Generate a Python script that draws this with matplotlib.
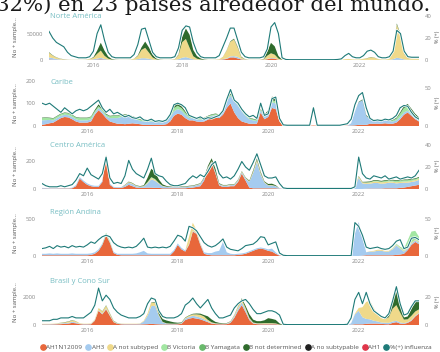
import numpy as np
import matplotlib
matplotlib.use("Agg")
import matplotlib.pyplot as plt
import matplotlib.patheffects as pe
from matplotlib.lines import Line2D

plt.rcParams['font.family'] = ['Open Sans', 'DejaVu Sans']

# ---------------- data (monthly, Jan 2015 .. May 2023) ----------------
year_ticks = [2016, 2018, 2020, 2022]
series_names = ["AH1N12009", "AH3", "A not subtyped", "B Victoria", "B Yamagata",
                "B not determined", "A no subtypable", "AH1", "%(+) influenza"]
regions = ["Norte América", "Caribe", "Centro América", "Región Andina", "Brasil y Cono Sur"]

# Norte América
na_pct = [26, 20, 16, 14, 12, 7, 4, 3, 2, 2, 2, 3,
          8, 24, 32, 18, 7, 3, 2, 2, 2, 2, 2, 5,
          14, 28, 29, 18, 7, 3, 2, 2, 2, 2, 3, 11,
          27, 31, 30, 16, 7, 3, 2, 2, 2, 2, 4, 12,
          20, 29, 29, 18, 7, 3, 2, 2, 2, 2, 3, 10,
          30, 34, 24, 2, 0.5, 0.3, 0.3, 0.3, 0.3, 0.3, 0.3, 0.3,
          0.3, 0.3, 0.3, 0.3, 0.3, 0.3, 0.5, 1, 4, 6, 3, 2,
          2, 4, 8, 9, 7, 3, 2, 2, 3, 8, 27, 24,
          8, 3, 2.5, 2.5, 2.5]
na_h1n1 = [1000, 600, 300, 200, 100, 0, 0, 0, 0, 0, 0, 100,
           300, 800, 1200, 600, 200, 0, 0, 0, 0, 0, 0, 0,
           200, 400, 400, 300, 100, 0, 0, 0, 0, 0, 0, 0,
           300, 500, 400, 200, 100, 0, 0, 0, 0, 0, 200, 1000,
           2000, 5000, 5000, 3000, 1000, 200, 0, 0, 0, 0, 200, 1500,
           3000, 2500, 500, 50, 0, 0, 0, 0, 0, 0, 0, 0,
           0, 0, 0, 0, 0, 0, 0, 0, 0, 0, 0, 0,
           0, 0, 0, 0, 0, 0, 0, 0, 0, 100, 300, 200,
           100, 0, 0, 0, 0]
na_h3 = [4000, 3000, 1500, 800, 400, 200, 100, 100, 100, 100, 200, 500,
         1000, 2000, 3000, 1500, 500, 200, 100, 100, 100, 100, 200, 500,
         1500, 3000, 3000, 2000, 800, 300, 100, 100, 100, 100, 300, 1500,
         4000, 5000, 3000, 1000, 400, 200, 100, 100, 100, 100, 300, 800,
         1000, 2000, 2500, 3000, 1000, 300, 100, 100, 100, 100, 200, 800,
         1000, 800, 300, 0, 0, 0, 0, 0, 0, 0, 0, 0,
         0, 0, 0, 0, 0, 0, 0, 0, 50, 100, 100, 100,
         100, 200, 300, 300, 200, 100, 100, 100, 200, 1500, 4000, 3000,
         1000, 400, 300, 300, 300]
na_anot = [9000, 5000, 3000, 1500, 800, 400, 300, 300, 300, 300, 500, 1500,
           3000, 9000, 14000, 6000, 2000, 600, 300, 300, 300, 300, 500, 2000,
           6000, 16000, 20000, 12000, 4000, 1000, 400, 300, 300, 400, 1000, 8000,
           30000, 35000, 20000, 6000, 2000, 800, 400, 300, 300, 400, 1000, 4000,
           15000, 28000, 32000, 18000, 3000, 800, 300, 300, 300, 400, 1000, 6000,
           9000, 7000, 2000, 200, 0, 0, 0, 0, 0, 0, 0, 0,
           0, 0, 0, 0, 0, 0, 100, 300, 1500, 2000, 1000, 800,
           1000, 2000, 3000, 5000, 4000, 1500, 800, 800, 2000, 18000, 64000, 45000,
           10000, 3000, 2000, 2000, 2000]
na_bnd = [1000, 600, 400, 300, 200, 100, 0, 0, 0, 0, 0, 100,
          1000, 6000, 15000, 10000, 4000, 1000, 200, 0, 0, 0, 0, 100,
          1000, 5000, 12000, 10000, 5000, 1500, 300, 0, 0, 0, 200, 1000,
          10000, 20000, 25000, 12000, 5000, 2000, 500, 0, 0, 0, 0, 200,
          500, 1000, 1500, 1500, 1000, 300, 0, 0, 0, 0, 500, 8000,
          20000, 16000, 5000, 300, 0, 0, 0, 0, 0, 0, 0, 0,
          0, 0, 0, 0, 0, 0, 0, 0, 0, 0, 0, 0,
          0, 100, 300, 500, 300, 100, 0, 0, 0, 200, 2000, 1500,
          500, 200, 100, 100, 100]

# Caribe
car_pct = [30, 28, 30, 26, 22, 18, 24, 20, 16, 20, 22, 20,
           22, 26, 30, 34, 24, 18, 22, 16, 18, 15, 12, 14,
           11, 10, 12, 8, 7, 9, 6, 7, 6, 8, 15, 28,
           30, 28, 24, 14, 12, 10, 12, 9, 11, 10, 12, 14,
           20, 35, 48, 34, 30, 22, 16, 12, 14, 10, 30, 14,
           16, 36, 38, 10, 1.5, 1, 1, 1, 1, 1, 1, 1,
           24, 1, 1, 1, 1, 1, 1, 1, 2, 3, 9, 28,
           40, 44, 24, 10, 7, 8, 7, 9, 8, 10, 14, 24,
           27, 26, 18, 12, 9]
car_h1n1 = [5, 8, 12, 15, 25, 35, 40, 38, 30, 20, 15, 15,
            15, 20, 50, 70, 55, 35, 20, 15, 10, 10, 8, 10,
            12, 10, 8, 5, 5, 5, 5, 5, 5, 8, 20, 45,
            55, 50, 35, 25, 25, 20, 18, 20, 28, 35, 38, 35,
            50, 80, 100, 60, 35, 20, 15, 10, 10, 10, 60, 30,
            40, 80, 75, 20, 2, 1, 1, 1, 1, 1, 1, 1,
            2, 1, 1, 1, 1, 1, 1, 1, 1, 1, 2, 3,
            5, 5, 5, 10, 10, 10, 10, 12, 10, 10, 15, 30,
            50, 60, 45, 30, 20]
car_h3 = [20, 18, 15, 10, 10, 10, 10, 10, 10, 10, 10, 10,
          10, 10, 8, 10, 10, 8, 15, 20, 25, 30, 35, 30,
          25, 20, 15, 15, 15, 15, 12, 12, 12, 12, 20, 20,
          20, 18, 15, 10, 10, 10, 10, 10, 10, 10, 10, 10,
          15, 30, 35, 50, 55, 45, 30, 20, 15, 12, 10, 10,
          15, 25, 25, 5, 0, 0, 0, 0, 0, 0, 0, 0,
          0, 0, 0, 0, 0, 0, 0, 0, 0, 0, 10, 60,
          100, 110, 40, 20, 15, 15, 15, 15, 12, 10, 10, 10,
          10, 8, 8, 6, 5]
car_bvic = [10, 10, 8, 8, 8, 8, 8, 8, 8, 8, 10, 10,
            10, 10, 8, 8, 8, 8, 8, 10, 10, 10, 8, 6,
            5, 5, 5, 5, 5, 5, 5, 5, 5, 5, 10, 15,
            15, 12, 10, 5, 5, 5, 5, 5, 5, 5, 5, 5,
            5, 5, 5, 5, 5, 5, 5, 5, 5, 5, 5, 5,
            5, 10, 10, 2, 0, 0, 0, 0, 0, 0, 0, 0,
            0, 0, 0, 0, 0, 0, 0, 0, 0, 0, 0, 0,
            0, 0, 0, 2, 3, 3, 3, 3, 3, 5, 8, 15,
            20, 20, 15, 12, 8]
car_bnd = [2, 2, 2, 2, 2, 2, 2, 2, 2, 2, 2, 2,
           2, 2, 5, 8, 5, 3, 2, 2, 2, 2, 2, 2,
           2, 2, 2, 2, 2, 2, 2, 2, 2, 2, 5, 10,
           10, 8, 5, 3, 2, 2, 2, 2, 2, 2, 2, 2,
           2, 3, 5, 5, 3, 2, 2, 2, 2, 2, 3, 5,
           10, 15, 15, 3, 0, 0, 0, 0, 0, 0, 0, 0,
           0, 0, 0, 0, 0, 0, 0, 0, 0, 0, 0, 0,
           2, 3, 3, 2, 2, 2, 2, 2, 2, 2, 3, 5,
           8, 10, 8, 6, 5]

# Centro América
ca_pct = [5, 3, 2, 2, 2, 3, 2, 3, 4, 8, 14, 12,
          19, 13, 11, 9, 14, 29, 10, 5, 6, 5, 12, 26,
          18, 14, 12, 10, 18, 28, 14, 12, 11, 7, 4, 3,
          3, 4, 5, 9, 12, 10, 13, 11, 16, 22, 25, 14,
          10, 11, 9, 12, 18, 25, 20, 17, 24, 32, 22, 12,
          10, 10, 11, 5, 1, 0.5, 0.5, 0.5, 0.5, 0.5, 0.5, 0.5,
          0.5, 0.5, 0.5, 0.5, 0.5, 0.5, 0.5, 0.5, 0.5, 0.5, 0.5, 2,
          29, 14, 10, 9, 12, 11, 10, 12, 9, 10, 11, 9,
          10, 11, 10, 12, 17]
ca_h1n1 = [3, 3, 2, 2, 2, 3, 3, 3, 5, 20, 75, 50,
           30, 20, 15, 15, 50, 230, 30, 10, 8, 8, 15, 30,
           20, 10, 8, 8, 10, 10, 8, 8, 5, 5, 5, 5,
           5, 5, 5, 8, 10, 15, 20, 60, 140, 185, 110, 25,
           15, 15, 20, 20, 50, 110, 60, 10, 5, 5, 5, 5,
           5, 5, 5, 2, 0, 0, 0, 0, 0, 0, 0, 0,
           0, 0, 0, 0, 0, 0, 0, 0, 0, 0, 0, 0,
           0, 0, 2, 3, 3, 3, 3, 5, 5, 5, 5, 8,
           10, 15, 20, 25, 30]
ca_h3 = [5, 4, 3, 3, 3, 3, 3, 3, 5, 8, 10, 10,
         10, 8, 8, 8, 8, 10, 8, 5, 5, 5, 10, 15,
         15, 10, 8, 10, 30, 60, 50, 30, 15, 10, 8, 8,
         8, 8, 8, 10, 10, 12, 15, 15, 10, 10, 10, 8,
         8, 8, 8, 8, 10, 10, 15, 40, 110, 190, 100, 40,
         20, 20, 15, 3, 0, 0, 0, 0, 0, 0, 0, 0,
         0, 0, 0, 0, 0, 0, 0, 0, 0, 0, 0, 5,
         80, 40, 35, 35, 40, 40, 35, 35, 40, 40, 35, 35,
         35, 30, 30, 30, 35]
ca_anot = [0, 0, 0, 0, 0, 0, 0, 0, 0, 0, 0, 0,
           0, 0, 0, 0, 0, 5, 0, 0, 0, 0, 3, 5,
           5, 3, 2, 3, 5, 10, 8, 5, 3, 2, 2, 2,
           2, 2, 2, 2, 2, 3, 3, 3, 5, 5, 5, 3,
           3, 3, 3, 3, 5, 5, 5, 5, 10, 15, 10, 5,
           3, 3, 2, 0, 0, 0, 0, 0, 0, 0, 0, 0,
           0, 0, 0, 0, 0, 0, 0, 0, 0, 0, 0, 0,
           10, 8, 8, 8, 10, 10, 10, 10, 8, 8, 8, 8,
           8, 8, 8, 8, 8]
ca_bvic = [0, 0, 0, 0, 0, 0, 0, 0, 0, 0, 0, 0,
           0, 0, 0, 0, 0, 0, 0, 0, 0, 0, 0, 0,
           0, 0, 0, 0, 5, 5, 5, 0, 0, 0, 0, 0,
           0, 0, 0, 0, 0, 0, 0, 0, 0, 0, 0, 0,
           0, 0, 0, 0, 0, 0, 0, 0, 0, 0, 0, 0,
           0, 0, 0, 0, 0, 0, 0, 0, 0, 0, 0, 0,
           0, 0, 0, 0, 0, 0, 0, 0, 0, 0, 0, 0,
           0, 0, 2, 3, 5, 5, 5, 8, 8, 8, 10, 10,
           10, 10, 10, 8, 8]
ca_bnd = [0, 0, 0, 0, 0, 0, 0, 0, 0, 0, 0, 0,
          0, 0, 0, 0, 0, 0, 0, 0, 0, 0, 2, 3,
          3, 3, 3, 5, 30, 60, 50, 25, 10, 5, 3, 3,
          3, 3, 3, 3, 3, 3, 3, 5, 10, 20, 20, 5,
          3, 3, 3, 3, 3, 3, 3, 5, 8, 10, 8, 5,
          8, 10, 5, 0, 0, 0, 0, 0, 0, 0, 0, 0,
          0, 0, 0, 0, 0, 0, 0, 0, 0, 0, 0, 0,
          3, 3, 5, 5, 5, 5, 5, 5, 5, 5, 5, 5,
          5, 5, 5, 5, 5]

# Región Andina
and_pct = [10, 11, 13, 10, 14, 12, 13, 11, 14, 12, 13, 12,
           15, 19, 17, 22, 26, 28, 26, 18, 14, 12, 11, 12,
           11, 13, 18, 24, 12, 11, 12, 11, 12, 11, 13, 20,
           28, 26, 20, 40, 38, 34, 26, 18, 14, 12, 14, 18,
           23, 12, 9, 8, 7, 10, 14, 15, 16, 20, 26, 25,
           15, 17, 19, 4, 1, 0.5, 0.5, 0.5, 0.5, 0.5, 0.5, 0.5,
           0.5, 0.5, 0.5, 0.5, 0.5, 0.5, 0.5, 0.5, 0.5, 0.5, 0.5, 45,
           40, 28, 12, 10, 11, 12, 10, 9, 10, 14, 20, 22,
           10, 12, 24, 25, 22]
and_h1n1 = [10, 10, 10, 10, 10, 10, 10, 10, 10, 10, 10, 10,
            10, 15, 30, 70, 150, 280, 180, 40, 15, 10, 10, 10,
            10, 10, 10, 10, 10, 10, 10, 10, 10, 10, 10, 60,
            150, 90, 60, 150, 330, 300, 150, 30, 15, 10, 10, 10,
            10, 10, 10, 10, 15, 20, 30, 50, 70, 90, 100, 90,
            70, 60, 30, 5, 0, 0, 0, 0, 0, 0, 0, 0,
            0, 0, 0, 0, 0, 0, 0, 0, 0, 0, 0, 0,
            0, 5, 10, 10, 10, 10, 10, 10, 10, 10, 15, 20,
            30, 80, 150, 190, 160]
and_h3 = [20, 20, 25, 20, 25, 20, 20, 20, 25, 20, 20, 20,
          20, 20, 20, 20, 15, 10, 10, 15, 15, 20, 20, 20,
          20, 25, 40, 60, 25, 20, 20, 20, 20, 20, 20, 20,
          20, 20, 15, 10, 10, 10, 15, 20, 25, 30, 50, 60,
          180, 40, 20, 15, 15, 15, 15, 15, 15, 15, 15, 15,
          20, 40, 20, 3, 0, 0, 0, 0, 0, 0, 0, 0,
          0, 0, 0, 0, 0, 0, 0, 0, 0, 0, 0, 300,
          460, 250, 40, 50, 50, 60, 60, 50, 50, 80, 130, 80,
          30, 20, 20, 20, 20]
and_anot = [0, 0, 0, 0, 0, 0, 0, 0, 0, 0, 0, 0,
            0, 0, 0, 0, 0, 5, 5, 0, 0, 0, 0, 0,
            0, 0, 0, 0, 0, 0, 0, 0, 0, 0, 0, 0,
            0, 0, 0, 100, 110, 40, 10, 0, 0, 0, 0, 0,
            0, 0, 0, 0, 0, 0, 0, 0, 0, 0, 0, 0,
            0, 0, 0, 0, 0, 0, 0, 0, 0, 0, 0, 0,
            0, 0, 0, 0, 0, 0, 0, 0, 0, 0, 0, 0,
            0, 0, 0, 5, 10, 15, 15, 10, 10, 10, 10, 10,
            10, 10, 10, 10, 10]
and_bvic = [0, 0, 0, 0, 0, 0, 0, 0, 0, 0, 0, 0,
            0, 0, 0, 0, 5, 20, 10, 0, 0, 0, 0, 0,
            0, 0, 0, 0, 0, 0, 0, 0, 0, 0, 0, 0,
            0, 0, 0, 0, 0, 0, 0, 0, 0, 0, 0, 0,
            0, 0, 0, 0, 0, 0, 0, 0, 0, 0, 0, 0,
            0, 0, 0, 0, 0, 0, 0, 0, 0, 0, 0, 0,
            0, 0, 0, 0, 0, 0, 0, 0, 0, 0, 0, 0,
            0, 0, 0, 0, 0, 0, 0, 0, 0, 5, 10, 15,
            30, 100, 150, 120, 70]

# Brasil y Cono Sur
br_pct = [3, 3, 3, 4, 4, 5, 5, 5, 6, 5, 5, 5,
          7, 9, 14, 26, 17, 21, 18, 12, 9, 7, 6, 5,
          5, 5, 6, 8, 15, 19, 18, 10, 6, 5, 5, 5,
          6, 8, 14, 16, 19, 15, 12, 15, 18, 12, 8, 5,
          5, 6, 7, 12, 15, 17, 18, 15, 11, 8, 8, 9,
          10, 10, 9, 7, 0.5, 0.3, 0.3, 0.3, 0.3, 0.3, 0.3, 0.3,
          0.3, 0.3, 0.3, 0.3, 0.3, 0.3, 0.3, 0.3, 0.3, 0.5, 5, 18,
          23, 15, 23, 15, 10, 8, 6, 5, 8, 17, 27, 15,
          7, 8, 13, 17, 17]
br_h1n1 = [30, 30, 30, 40, 50, 60, 80, 100, 150, 120, 60, 40,
           40, 50, 300, 1000, 750, 1100, 650, 200, 80, 50, 40, 40,
           40, 40, 40, 50, 60, 80, 60, 50, 40, 40, 40, 40,
           50, 80, 350, 450, 500, 450, 400, 300, 200, 100, 60, 50,
           50, 60, 150, 500, 1000, 1400, 900, 350, 100, 60, 50, 50,
           50, 50, 50, 20, 0, 0, 0, 0, 0, 0, 0, 0,
           0, 0, 0, 0, 0, 0, 0, 0, 0, 0, 20, 50,
           50, 50, 80, 100, 100, 100, 80, 60, 50, 150, 200, 100,
           80, 150, 300, 600, 800]
br_h3 = [30, 30, 30, 30, 40, 50, 50, 50, 80, 60, 30, 30,
         30, 30, 40, 50, 50, 60, 50, 30, 30, 30, 30, 30,
         30, 30, 50, 200, 600, 1250, 1300, 600, 150, 60, 40, 30,
         30, 40, 100, 120, 150, 150, 120, 100, 60, 40, 30, 30,
         30, 40, 60, 100, 150, 200, 150, 80, 40, 30, 30, 30,
         30, 30, 20, 5, 0, 0, 0, 0, 0, 0, 0, 0,
         0, 0, 0, 0, 0, 0, 0, 0, 0, 0, 100, 700,
         950, 500, 350, 300, 200, 150, 100, 100, 100, 100, 100, 80,
         50, 50, 50, 50, 50]
br_anot = [20, 20, 20, 20, 30, 40, 50, 80, 100, 80, 40, 20,
           20, 30, 50, 150, 150, 200, 100, 50, 20, 20, 20, 20,
           20, 20, 20, 50, 150, 250, 200, 80, 30, 20, 20, 20,
           20, 20, 50, 80, 100, 150, 200, 200, 100, 50, 30, 20,
           20, 20, 30, 80, 150, 200, 150, 80, 40, 30, 40, 50,
           50, 50, 40, 10, 0, 0, 0, 0, 0, 0, 0, 0,
           0, 0, 0, 0, 0, 0, 0, 0, 0, 0, 0, 50,
           200, 700, 1200, 1300, 900, 500, 300, 250, 400, 900, 1100, 700,
           250, 200, 300, 300, 250]
br_bnd = [0, 0, 0, 0, 0, 10, 20, 20, 20, 10, 0, 0,
          0, 0, 0, 0, 20, 30, 30, 20, 10, 0, 0, 0,
          0, 0, 0, 0, 0, 20, 50, 150, 200, 200, 150, 100,
          60, 40, 30, 30, 40, 60, 80, 100, 250, 200, 100, 50,
          30, 20, 20, 20, 30, 80, 150, 250, 200, 150, 150, 200,
          350, 300, 250, 80, 0, 0, 0, 0, 0, 0, 0, 0,
          0, 0, 0, 0, 0, 0, 0, 0, 0, 0, 0, 0,
          0, 0, 0, 0, 0, 0, 0, 0, 100, 700, 1300, 600,
          150, 200, 500, 700, 600]

# ---------------- styling ----------------
colors = {"AH1N12009": "#E8673B", "AH3": "#A5CBEF", "A not subtyped": "#EFD98A",
          "B Victoria": "#A2E6A2", "B Yamagata": "#68B96B", "B not determined": "#2F6B2C",
          "A no subtypable": "#1F1F1F", "AH1": "#E0354A", "%(+) influenza": "#1E7A78"}
title_col = "#78BEC3"
tick_col = "#8A8A8A"

panels = [
    (regions[0], [("AH1N12009", na_h1n1), ("AH3", na_h3), ("A not subtyped", na_anot),
                  ("B not determined", na_bnd)], na_pct,
     88500, [0, 50000], 41.8, [0, 20, 40], (49, 14, 419, 60)),
    (regions[1], [("AH1N12009", car_h1n1), ("AH3", car_h3), ("B Victoria", car_bvic),
                  ("B not determined", car_bnd)], car_pct,
     204, [0, 100, 200], 60.5, [0, 50], (42, 80, 419, 126)),
    (regions[2], [("AH1N12009", ca_h1n1), ("AH3", ca_h3), ("A not subtyped", ca_anot),
                  ("B Victoria", ca_bvic), ("B not determined", ca_bnd)], ca_pct,
     329, [0, 200], 41.8, [0, 20, 40], (42, 143, 419, 189)),
    (regions[3], [("AH1N12009", and_h1n1), ("AH3", and_h3), ("A not subtyped", and_anot),
                  ("B Victoria", and_bvic)], and_pct,
     622, [0, 500], 62, [0, 50], (42, 210, 419, 256)),
    (regions[4], [("AH1N12009", br_h1n1), ("AH3", br_h3), ("A not subtyped", br_anot),
                  ("B not determined", br_bnd)], br_pct,
     3240, [0, 2000], 32.4, [0, 20], (42, 279, 419, 325)),
]

W, H = 440, 352
fig = plt.figure(figsize=(W / 100, H / 100), dpi=100)
fig.patch.set_facecolor("white")

x = 2015 + np.arange(101) / 12.0

fig.text(-4 / W, 1 - 11 / H, "32%) en 23 países alrededor del mundo.",
         family="DejaVu Serif", fontsize=15.3, color="#1a1a1a", ha="left", va="baseline")

for name, stack, pct, ymax, yt, pmax, pt, (l, t, r, b) in panels:
    ax = fig.add_axes([l / W, 1 - b / H, (r - l) / W, (b - t) / H])
    ax.stackplot(x, *[np.array(v, float) for _, v in stack],
                 colors=[colors[k] for k, _ in stack], lw=0)
    ax.set_xlim(x[0], x[-1])
    ax.set_ylim(0, ymax)
    ax.set_yticks(yt)
    ax.set_yticklabels([str(v) for v in yt])
    ax.set_xticks(year_ticks)
    ax.set_xticklabels([str(v) for v in year_ticks])
    ax.tick_params(axis="both", length=0, labelsize=4.2, colors=tick_col)
    ax.tick_params(axis="x", pad=2.5)
    ax.tick_params(axis="y", pad=4.5)
    for s in ax.spines.values():
        s.set_visible(False)
    ax2 = ax.twinx()
    ax2.plot(x, pct, color=colors["%(+) influenza"], lw=0.8,
             path_effects=[pe.Stroke(linewidth=1.8, foreground="white"), pe.Normal()])
    ax2.set_xlim(x[0], x[-1])
    ax2.set_ylim(0, pmax)
    ax2.set_yticks(pt)
    ax2.set_yticklabels([str(v) for v in pt])
    ax2.tick_params(axis="y", length=0, labelsize=4.2, colors=tick_col, pad=4.3)
    for s in ax2.spines.values():
        s.set_visible(False)
    fig.text(50 / W, 1 - (t + 2.5) / H, name, color=title_col, fontsize=5.5, va="center")
    yc = 1 - ((t + b) / 2) / H
    fig.text(15 / W, yc, "No + sample...", rotation=90, fontsize=4.3, color="#555555",
             ha="center", va="center")
    fig.text(437 / W, yc, "% (+)", rotation=90, fontsize=4.0, color="#555555",
             ha="center", va="center")

handles = [Line2D([], [], marker="o", ls="", markersize=3.8, markerfacecolor=colors[n],
                  markeredgecolor=colors[n]) for n in series_names]
fig.legend(handles, series_names, loc="center", bbox_to_anchor=(236 / W, 1 - 347 / H),
           ncol=9, frameon=False, fontsize=4.6, handlelength=0.7, handletextpad=0.15,
           columnspacing=0.6, borderaxespad=0, labelcolor="#555555")

fig.savefig("out.png", dpi=100, facecolor="white")
